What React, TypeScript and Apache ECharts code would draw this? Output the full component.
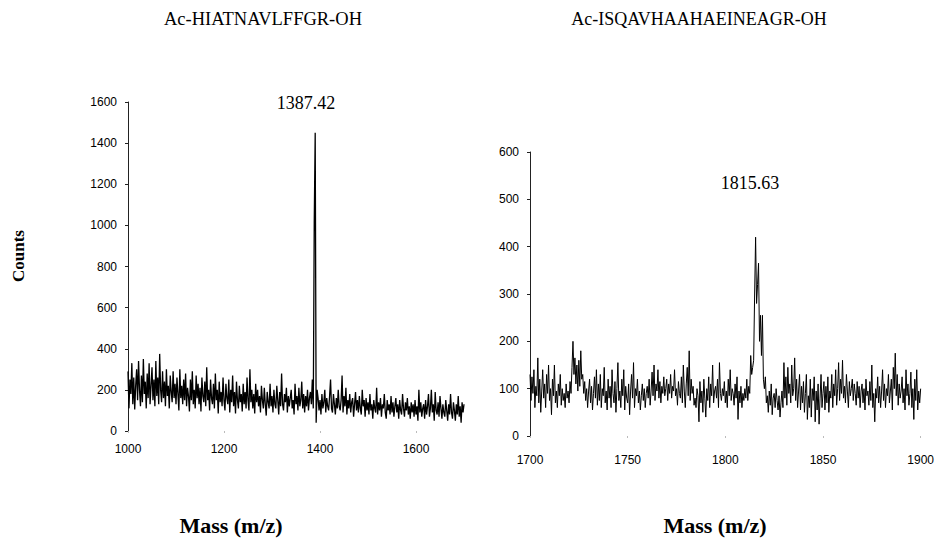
import React, { useEffect, useRef } from "react";
import * as echarts from "echarts";

// Left spectrum: Ac-HIATNAVLFFGR-OH, m/z 1000–1700 sampled every 2 units
const LEFT_TITLE = "Ac-HIATNAVLFFGR-OH";
const LEFT_PEAK_LABEL = "1387.42";
const LEFT_MZ_START = 1000;
const LEFT_MZ_STEP = 2;
const LEFT_COUNTS = [
  290,110,250,180,330,130,260,105,220,300,
  150,340,200,120,270,140,350,180,240,110,
  280,160,330,130,220,310,150,250,120,340,
  170,260,130,375,200,140,290,160,240,120,
  300,170,220,110,270,190,140,290,160,230,
  130,260,180,100,300,160,220,130,250,150,
  280,120,210,170,95,250,150,290,130,200,
  110,270,160,230,130,210,95,260,170,140,
  240,120,310,150,200,100,250,160,130,230,
  110,280,150,200,85,240,140,190,120,260,
  150,100,230,160,130,250,90,200,140,270,
  120,190,85,240,150,110,220,140,180,95,
  230,130,190,110,260,150,100,300,140,200,
  110,180,85,230,140,200,120,170,90,220,
  150,110,210,130,75,190,140,110,230,120,
  170,90,200,130,110,220,150,80,190,120,
  280,130,100,180,140,210,90,170,120,160,
  200,110,150,80,230,130,170,100,210,120,
  150,240,110,180,90,170,120,200,100,160,
  190,130,250,110,1010,1450,40,200,160,100,
  150,80,180,110,140,200,90,160,120,100,
  170,250,110,90,180,130,80,160,110,200,
  120,100,150,270,90,170,120,210,80,150,
  110,180,90,140,160,70,130,190,100,150,
  90,170,110,80,200,120,150,70,160,100,
  140,80,180,100,130,60,150,110,90,210,
  80,140,100,160,70,130,110,180,90,60,
  150,100,130,80,170,90,140,70,120,160,
  90,130,60,150,100,80,180,110,70,140,
  100,160,80,120,60,140,90,130,70,150,
  80,120,50,200,90,140,70,110,130,60,
  150,80,120,180,70,110,200,90,130,50,
  190,100,80,140,70,170,110,60,130,90,
  70,150,100,50,130,80,180,90,60,140,
  100,50,130,80,170,70,120,40,140,90,
  130,
];
const LEFT_X_MIN = 1000;
const LEFT_X_MAX = 1700;
const LEFT_X_INTERVAL = 200;
const LEFT_Y_MAX = 1600;
const LEFT_Y_INTERVAL = 200;

// Right spectrum: Ac-ISQAVHAAHAEINEAGR-OH, m/z 1700–1900 sampled every 0.5 units
const RIGHT_TITLE = "Ac-ISQAVHAAHAEINEAGR-OH";
const RIGHT_PEAK_LABEL = "1815.63";
const RIGHT_MZ_START = 1700;
const RIGHT_MZ_STEP = 0.5;
const RIGHT_COUNTS = [
  130,75,125,90,140,60,105,85,165,70,
  120,50,95,140,80,110,60,130,90,150,
  75,100,45,120,85,150,70,95,60,110,
  85,130,65,100,75,90,60,110,80,95,
  70,115,90,145,200,130,165,110,150,95,
  160,105,180,120,130,90,115,75,100,60,
  95,120,70,105,55,90,125,80,140,65,
  110,75,130,60,100,85,145,70,95,55,
  120,80,105,60,140,90,70,115,50,100,
  155,75,95,60,120,85,140,55,105,80,
  70,110,45,95,130,80,155,60,100,85,
  120,70,95,55,85,110,75,100,60,90,
  105,80,120,65,95,135,85,150,75,110,
  95,140,80,115,70,105,90,125,85,100,
  120,75,110,90,130,80,105,95,140,85,
  100,65,115,90,80,125,70,150,95,60,
  110,145,85,180,75,120,90,105,65,80,
  60,100,85,30,115,70,95,50,120,80,
  40,100,75,125,60,110,85,150,70,95,
  105,80,120,60,155,90,75,100,85,115,
  70,95,60,120,85,140,75,100,90,65,
  110,80,125,35,95,70,105,60,90,75,
  100,80,120,75,105,90,170,130,145,160,
  300,420,280,320,365,200,255,170,255,120,
  100,125,70,85,50,95,65,110,45,80,
  90,60,100,75,55,85,40,70,95,60,
  155,80,125,65,145,90,110,70,150,85,
  100,165,75,120,60,95,130,55,105,70,
  115,50,90,130,35,85,60,120,40,100,
  75,125,30,95,55,110,25,80,130,60,
  90,115,55,105,70,125,50,95,80,130,
  60,110,85,140,65,100,155,75,120,90,
  160,80,105,70,130,95,60,115,85,100,
  120,75,110,90,65,115,80,105,60,95,
  110,70,100,55,120,85,95,65,115,75,
  150,60,90,30,100,80,125,70,105,60,
  95,140,75,110,60,100,85,130,70,95,
  120,55,145,100,175,85,130,65,110,80,
  95,125,70,100,55,140,85,110,65,90,
  135,60,100,35,120,75,140,55,95,70,
  100,
];
const RIGHT_X_MIN = 1700;
const RIGHT_X_MAX = 1900;
const RIGHT_X_INTERVAL = 50;
const RIGHT_Y_MAX = 600;
const RIGHT_Y_INTERVAL = 100;

const Y_TITLE = "Counts";
const X_TITLE = "Mass (m/z)";

const SANS = "'Liberation Sans', Arial, sans-serif";
const SERIF = "'Liberation Serif', 'Times New Roman', serif";

function toPairs(start: number, step: number, values: number[]) {
  return values.map((v, i) => [start + i * step, v]);
}

export default function App() {
  const ref = useRef<HTMLDivElement>(null);

  useEffect(() => {
    if (!ref.current) return;
    const chart = echarts.init(ref.current, undefined, { renderer: "svg" });

    const plain = (v: number) => String(v);
    const axisLabel = { color: "#000", fontFamily: SANS, fontSize: 12, formatter: plain };
    const yAxisCommon = {
      type: "value" as const,
      min: 0,
      splitLine: { show: false },
      axisLine: { show: true, lineStyle: { color: "#222", width: 1 } },
      axisTick: { show: true, length: 3, lineStyle: { color: "#222" } },
    };
    const xAxisCommon = {
      type: "value" as const,
      splitLine: { show: false },
      axisLine: { show: false },
      axisTick: { show: true, length: 2, lineStyle: { color: "#bbb" } },
    };

    chart.setOption({
      animation: false,
      backgroundColor: "#fff",
      grid: [
        { left: 128, top: 102, width: 336, height: 329 },
        { left: 530, top: 152, width: 392, height: 284 },
      ],
      xAxis: [
        {
          ...xAxisCommon,
          gridIndex: 0,
          min: LEFT_X_MIN,
          max: LEFT_X_MAX,
          interval: LEFT_X_INTERVAL,
          axisLabel: { ...axisLabel, margin: 12, showMaxLabel: false },
        },
        {
          ...xAxisCommon,
          gridIndex: 1,
          min: RIGHT_X_MIN,
          max: RIGHT_X_MAX,
          interval: RIGHT_X_INTERVAL,
          axisLabel: { ...axisLabel, margin: 18 },
        },
      ],
      yAxis: [
        {
          ...yAxisCommon,
          gridIndex: 0,
          max: LEFT_Y_MAX,
          interval: LEFT_Y_INTERVAL,
          axisLabel: { ...axisLabel, margin: 11 },
        },
        {
          ...yAxisCommon,
          gridIndex: 1,
          max: RIGHT_Y_MAX,
          interval: RIGHT_Y_INTERVAL,
          axisLabel: { ...axisLabel, margin: 11 },
        },
      ],
      series: [
        {
          type: "line",
          xAxisIndex: 0,
          yAxisIndex: 0,
          data: toPairs(LEFT_MZ_START, LEFT_MZ_STEP, LEFT_COUNTS),
          showSymbol: false,
          symbol: "none",
          lineStyle: { color: "#000", width: 1.3 },
          silent: true,
        },
        {
          type: "line",
          xAxisIndex: 1,
          yAxisIndex: 1,
          data: toPairs(RIGHT_MZ_START, RIGHT_MZ_STEP, RIGHT_COUNTS),
          showSymbol: false,
          symbol: "none",
          lineStyle: { color: "#000", width: 1 },
          silent: true,
        },
      ],
      graphic: [
        {
          type: "text",
          x: 263,
          y: 19,
          style: { text: LEFT_TITLE, font: `18.5px ${SERIF}`, fill: "#000", align: "center", verticalAlign: "middle" },
        },
        {
          type: "text",
          x: 699,
          y: 19,
          style: { text: RIGHT_TITLE, font: `18px ${SERIF}`, fill: "#000", align: "center", verticalAlign: "middle" },
        },
        {
          type: "text",
          x: 306,
          y: 103,
          style: { text: LEFT_PEAK_LABEL, font: `18px ${SERIF}`, fill: "#000", align: "center", verticalAlign: "middle" },
        },
        {
          type: "text",
          x: 750,
          y: 183,
          style: { text: RIGHT_PEAK_LABEL, font: `18px ${SERIF}`, fill: "#000", align: "center", verticalAlign: "middle" },
        },
        {
          type: "text",
          x: 18,
          y: 256,
          rotation: Math.PI / 2,
          style: { text: Y_TITLE, font: `bold 17px ${SERIF}`, fill: "#000", align: "center", verticalAlign: "middle" },
        },
        {
          type: "text",
          x: 231,
          y: 525,
          style: { text: X_TITLE, font: `bold 22px ${SERIF}`, fill: "#000", align: "center", verticalAlign: "middle" },
        },
        {
          type: "text",
          x: 715,
          y: 525,
          style: { text: X_TITLE, font: `bold 22px ${SERIF}`, fill: "#000", align: "center", verticalAlign: "middle" },
        },
      ],
    });

    return () => chart.dispose();
  }, []);

  return (
    <div
      ref={ref}
      style={{ position: "fixed", left: 0, top: 0, width: 937, height: 539, background: "#fff" }}
    />
  );
}
